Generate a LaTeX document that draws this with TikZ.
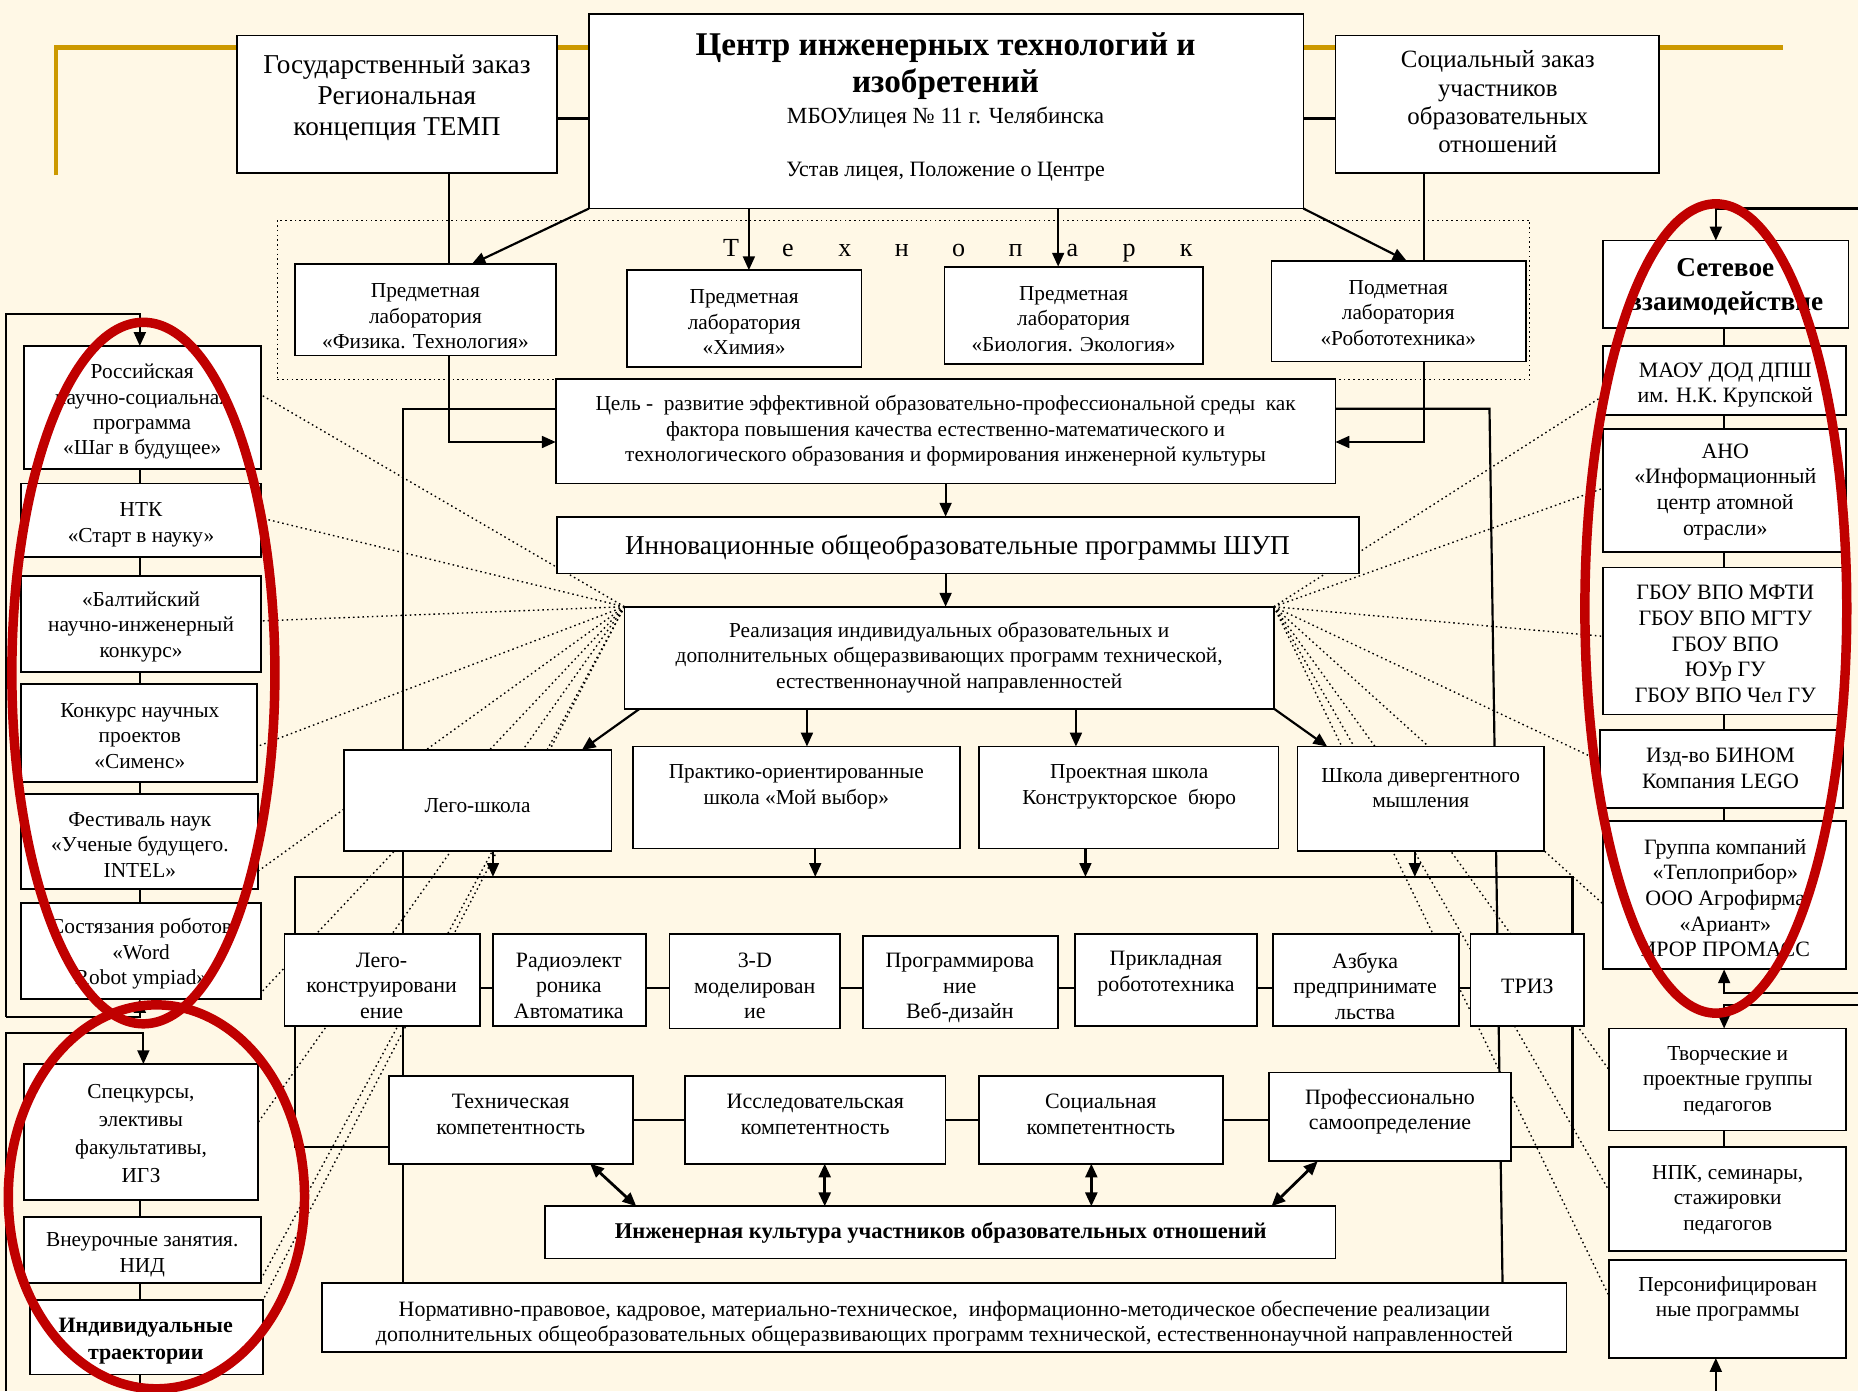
\documentclass[tikz,border=0pt]{standalone}
\usepackage{fontspec}
\setmainfont{Liberation Serif}
\usetikzlibrary{arrows.meta}
\pgfdeclarelayer{bglayer}
\pgfdeclarelayer{lines}
\pgfsetlayers{bglayer,lines,main}
\definecolor{cream}{RGB}{255,248,230}
\definecolor{gold}{RGB}{204,153,0}
\definecolor{ringred}{RGB}{192,0,0}
\newcommand\fsz[2]{\fontsize{#1}{#2}\selectfont\lineskiplimit=-100pt\relax}
\newcommand\bx[6][box]{\node[#1, minimum width={(#5-#3)*0.6pt}, minimum height={(#6-#4)*0.6pt}] (#2) at (#3,#4) {};}
\newcommand\tpl[1]{\makebox[28.8pt]{#1}}
\begin{document}
\begin{tikzpicture}[x=0.6pt,y=-0.6pt,
 box/.style={draw, fill=white, line width=0.9pt, inner sep=0pt, outer sep=0pt, anchor=north west},
 tpbox/.style={draw, dash pattern=on 0.8pt off 1.6pt, line width=0.7pt, inner sep=0pt, outer sep=0pt, anchor=north west},
 txt/.style={align=center, inner sep=0pt, yshift=-1.2pt},
 tG/.style={txt, font=\fsz{13.8pt}{15.9pt}},
 tTitle/.style={txt, font=\fsz{16.8pt}{18.6pt}\bfseries},
 tM/.style={txt, font=\fsz{11.7pt}{13pt}},
 tU/.style={txt, font=\fsz{11.1pt}{13pt}},
 tS/.style={txt, font=\fsz{12.6pt}{14.4pt}},
 tT/.style={txt, font=\fsz{13.2pt}{15pt}},
 t18/.style={txt, font=\fsz{10.8pt}{12.9pt}},
 t185/.style={txt, font=\fsz{11.1pt}{12.9pt}},
 tR/.style={txt, font=\fsz{11.1pt}{13pt}},
 tBig/.style={txt, font=\fsz{13.8pt}{15pt}},
 tEng/.style={txt, font=\fsz{11.4pt}{13pt}\bfseries},
 tInd/.style={txt, font=\fsz{11.1pt}{13.8pt}\bfseries},
 tSet/.style={txt, font=\fsz{13.8pt}{16.8pt}\bfseries},
 ln/.style={line width=1.1pt},
 arr/.style={line width=1.1pt, -{Triangle[length=7pt,width=6pt]}},
 darr/.style={line width=1.4pt, {Triangle[length=7pt,width=6pt]}-{Triangle[length=7pt,width=6pt]}},
 dotln/.style={line width=0.7pt, dash pattern=on 0.8pt off 1.6pt},
 goldln/.style={gold, line width=2.2pt},
 ring/.style={ringred, line width=4.8pt}
]
\useasboundingbox (0,0) rectangle (1568,1174);
\begin{pgfonlayer}{bglayer}
\fill[cream] (0,0) rectangle (1568,1174);
\end{pgfonlayer}

% ---------- top ----------
\bx{gos}{200}{30}{470}{146}
\bx{ctr}{497}{12}{1100}{176}
\bx{soc}{1127}{30}{1400}{146}
\bx[tpbox]{tpark}{234}{186}{1291}{320}
\node[tG] (gosT) at (335,80.5) {Государственный заказ\\Региональная\\концепция ТЕМП};
\node[tTitle] (ctrT) at (798,53.5) {Центр инженерных технологий и\\изобретений};
\node[tM] (ctrS) at (798,97) {МБОУлицея №~11 г. Челябинска};
\node[tU] (ctrU) at (798,143) {Устав лицея, Положение о Центре};
\node[tS] (socT) at (1264,84) {Социальный заказ\\участников\\образовательных\\отношений};
\node[tT] (tpT) at (809,210) {\tpl{Т}\tpl{е}\tpl{х}\tpl{н}\tpl{о}\tpl{п}\tpl{а}\tpl{р}\tpl{к}};

% labs
\bx{fiz}{249}{223}{469}{300}
\bx{him}{529}{228}{727}{310}
\bx{bio}{797}{225}{1015}{307}
\bx{rob}{1073}{220}{1288}{305}
\node[t18] (fizT) at (359,265) {Предметная\\лаборатория\\«Физика. Технология»};
\node[t18] (himT) at (628,270) {Предметная\\лаборатория\\«Химия»};
\node[t18] (bioT) at (906,267) {Предметная\\лаборатория\\«Биология. Экология»};
\node[t18] (robT) at (1180,262) {Подметная\\лаборатория\\«Робототехника»};

% goal, programs
\bx{goal}{469}{320}{1127}{408}
\node[t18] (goalT) at (798,361.5) {Цель -\ \ развитие эффективной образовательно-профессиональной среды\ \ как\\фактора повышения качества естественно-математического и\\технологического образования и формирования инженерной культуры};
\bx{shup}{470}{436}{1147}{484}
\node[tBig] (shupT) at (808,460) {Инновационные общеобразовательные программы ШУП};
\bx{real}{527}{512}{1075}{598}
\node[t18] (realT) at (801,553) {Реализация индивидуальных образовательных и\\дополнительных общеразвивающих программ технической,\\естественнонаучной направленностей};

% schools
\bx{lego}{290}{633}{516}{718}
\bx{prak}{534}{630}{810}{716}
\bx{proj}{826}{630}{1079}{716}
\bx{div}{1095}{630}{1303}{718}
\node[t18] (legoT) at (403,678) {Лего-школа};
\node[t18] (prakT) at (672,662) {Практико-ориентированные\\школа «Мой выбор»};
\node[t18] (projT) at (953,662) {Проектная школа\\Конструкторское\ \ бюро};
\node[t18] (divT) at (1199,663) {Школа дивергентного\\мышления};

% courses
\bx{ca}{240}{788}{405}{866}
\bx{cb}{416}{788}{545}{866}
\bx{cc}{565}{788}{709}{868}
\bx{cd}{728}{790}{893}{868}
\bx{ce}{907}{788}{1061}{866}
\bx{cf}{1074}{788}{1231}{866}
\bx{cg}{1241}{788}{1337}{866}
\node[t185] (caT) at (322,830) {Лего-\\конструировани\\ение};
\node[t185] (cbT) at (480,830) {Радиоэлект\\роника\\Автоматика};
\node[t185] (ccT) at (637,830) {3-D\\моделирован\\ие};
\node[t185] (cdT) at (810,832) {Программирова\\ние\\Веб-дизайн};
\node[t185] (ceT) at (984,819.5) {Прикладная\\робототехника};
\node[t185] (cfT) at (1152,830) {Азбука\\предпринимате\\льства};
\node[t185] (cgT) at (1289,830) {ТРИЗ};

% competences
\bx{tech}{328}{908}{534}{982}
\bx{res}{578}{908}{798}{982}
\bx{socc}{826}{908}{1032}{982}
\bx{prof}{1071}{905}{1275}{980}
\node[t185] (techT) at (431,938.5) {Техническая\\компетентность};
\node[t185] (resT) at (688,938.5) {Исследовательская\\компетентность};
\node[t185] (soccT) at (929,938.5) {Социальная\\компетентность};
\node[t185] (profT) at (1173,936) {Профессионально\\самоопределение};

\bx{eng}{460}{1018}{1127}{1062}
\node[tEng] (engT) at (794,1038) {Инженерная культура участников образовательных отношений};
\bx{norm}{272}{1083}{1322}{1141}
\node[t185] (normT) at (797,1115) {Нормативно-правовое, кадровое, материально-техническое,\ \ информационно-методическое обеспечение реализации\\дополнительных общеобразовательных общеразвивающих программ технической, естественнонаучной направленностей};

% left column
\bx{ros}{20}{292}{220}{396}
\bx{ntk}{18}{408}{220}{470}
\bx{balt}{18}{486}{220}{567}
\bx{konk}{18}{577}{217}{660}
\bx{fest}{18}{670}{218}{750}
\bx{sost}{18}{762}{220}{843}
\bx{spec}{20}{898}{218}{1013}
\bx{vneur}{20}{1027}{220}{1083}
\bx{indiv}{25}{1097}{222}{1160}
\node[t18] (rosT) at (120,345.5) {Российская\\научно-социальная\\программа\\«Шаг в будущее»};
\node[t18] (ntkT) at (119,441) {НТК\\«Старт в науку»};
\node[t18] (baltT) at (119,527) {«Балтийский\\научно-инженерный\\конкурс»};
\node[t18] (konkT) at (118,619) {Конкурс научных\\проектов\\«Сименс»};
\node[t18] (festT) at (118,711) {Фестиваль наук\\«Ученые будущего.\\INTEL»};
\node[t18] (sostT) at (119,803) {Состязания роботов\\«Word\\Robot ympiad»};
\node[txt, font=\fsz{10.8pt}{14.2pt}] (specT) at (119,954.5) {Спецкурсы,\\элективы\\факультативы,\\ИГЗ};
\node[t18] (vneurT) at (120,1057) {Внеурочные занятия.\\НИД};
\node[tInd] (indivT) at (123,1129.5) {Индивидуальные\\траектории};

% right column
\bx{set}{1353}{203}{1560}{277}
\bx{maou}{1353}{292}{1558}{350}
\bx{ano}{1353}{362}{1558}{466}
\bx{gbou}{1353}{479}{1558}{603}
\bx{binom}{1350}{616}{1555}{682}
\bx{grp}{1353}{693}{1558}{818}
\bx{tvor}{1358}{868}{1558}{954}
\bx{npk}{1358}{968}{1558}{1056}
\bx{pers}{1358}{1063}{1558}{1146}
\node[tSet] (setT) at (1456,240) {Сетевое\\взаимодействие};
\node[tR] (maouT) at (1456,323) {МАОУ ДОД ДПШ\\им. Н.К. Крупской};
\node[tR] (anoT) at (1456,413) {АНО\\«Информационный\\центр атомной\\отрасли»};
\node[tR] (gbouT) at (1456,541.5) {ГБОУ ВПО МФТИ\\ГБОУ ВПО МГТУ\\ГБОУ ВПО\\ЮУр ГУ\\ГБОУ ВПО Чел ГУ};
\node[tR] (binomT) at (1452,646.5) {Изд-во БИНОМ\\Компания LEGO};
\node[tR] (grpT) at (1456,756) {Группа компаний\\«Теплоприбор»\\ООО Агрофирма\\«Ариант»\\ИРОР ПРОМАСС};
\node[t18] (tvorT) at (1458,910) {Творческие и\\проектные группы\\педагогов};
\node[t18] (npkT) at (1458,1010.5) {НПК, семинары,\\стажировки\\педагогов};
\node[t18] (persT) at (1458,1094) {Персонифицирован\\ные программы};

% free ends
\coordinate (lfA) at (5,858);
\coordinate (lfB) at (5,1174);
\coordinate (rfA) at (1568,176);
\coordinate (rfB) at (1568,838);
\coordinate (rfC) at (1568,848);
\coordinate (rfD) at (1448,1174);

\begin{pgfonlayer}{lines}
\draw[goldln] (47,148) -- (47,40) -- (1505,40);
\draw[ln] (gos.east |- 0,100) -- (ctr.west |- 0,100);
\draw[ln] (ctr.east |- 0,100) -- (soc.west |- 0,100);
\draw[arr] (ctr.south west) -- (398,0 |- fiz.north);
\draw[arr] (632,0 |- ctr.south) -- (632,0 |- him.north);
\draw[arr] (893,0 |- ctr.south) -- (893,0 |- bio.north);
\draw[arr] (ctr.south east) -- (1187,0 |- rob.north);
\draw[arr] (379,0 |- gos.south) -- (379,373) -- (goal.west |- 0,373);
\draw[arr] (1202,0 |- soc.south) -- (1202,373) -- (goal.east |- 0,373);
\draw[ln] (goal.west |- 0,345) -- (340,345) -- (340,0 |- norm.north);
\draw[ln] (goal.east |- 0,345) -- (1257,345) -- (1268,0 |- norm.north);
\draw[arr] (goal.south) -- (goal.south |- shup.north);
\draw[arr] (goal.south |- shup.south) -- (goal.south |- real.north);
\draw[arr] (540,0 |- real.south) -- (491,0 |- lego.north);
\draw[arr] (681,0 |- real.south) -- (681,0 |- prak.north);
\draw[arr] (908,0 |- real.south) -- (908,0 |- proj.north);
\draw[arr] (real.south east) -- (1120,0 |- div.north);
\draw[arr] (416,0 |- lego.south) -- (416,740);
\draw[arr] (688,0 |- prak.south) -- (688,740);
\draw[arr] (916,0 |- proj.south) -- (916,740);
\draw[arr] (1194,0 |- div.south) -- (1194,740);
\draw[ln] (tech.west |- 0,968) -- (249,968) -- (249,740) -- (1327,740) -- (1327,968) -- (prof.east |- 0,968);
\foreach \a/\b in {ca/cb,cb/cc,cc/cd,cd/ce,ce/cf,cf/cg}
  \draw[ln] (\a.east |- 0,834) -- (\b.west |- 0,834);
\foreach \a/\b in {tech/res,res/socc,socc/prof}
  \draw[ln] (\a.east |- 0,945) -- (\b.west |- 0,945);
\draw[darr] (498,0 |- tech.south) -- (537,0 |- eng.north);
\draw[darr] (696,0 |- res.south) -- (696,0 |- eng.north);
\draw[darr] (921,0 |- socc.south) -- (921,0 |- eng.north);
\draw[darr] (1112,0 |- prof.south) -- (1073,0 |- eng.north);
% left column
\foreach \a/\b in {ros/ntk,ntk/balt,balt/konk,konk/fest,fest/sost,spec/vneur,vneur/indiv}
  \draw[ln] (118,0 |- \a.south) -- (118,0 |- \b.north);
\draw[arr] (lfA) -- (5,265) -- (118,265) -- (118,0 |- ros.north);
\draw[arr] (lfA) -- (118,858) -- (118,0 |- sost.south);
\draw[arr] (lfB) -- (5,872) -- (121,872) -- (121,0 |- spec.north);
\draw[ln] (118,0 |- indiv.south) -- (118,1174);
% right column
\foreach \a/\b in {set/maou,maou/ano,ano/gbou,gbou/binom,binom/grp,tvor/npk}
  \draw[ln] (1455,0 |- \a.south) -- (1455,0 |- \b.north);
\draw[arr] (rfA) -- (1448,176) -- (1448,0 |- set.north);
\draw[arr] (rfB) -- (1455,838) -- (1455,0 |- grp.south);
\draw[arr] (rfC) -- (1455,848) -- (1455,0 |- tvor.north);
\draw[arr] (rfD) -- (1448,0 |- pers.south);
% dotted fans
\foreach \t/\y in {ros/333,ntk/437,balt/524,konk/630,fest/735,sost/838,spec/947,vneur/1080,indiv/1097}
  \draw[dotln] (real.north west) -- (\t.east |- 0,\y);
\foreach \t/\y in {maou/334,ano/412,gbou/537,binom/642,grp/763,tvor/903,npk/1005,pers/1094}
  \draw[dotln] (real.north east) -- (\t.west |- 0,\y);
\end{pgfonlayer}

% red rings
\draw[ring] (121,568) ellipse [x radius=66.6pt, y radius=177.6pt];
\draw[ring] (132,1010) ellipse [x radius=75pt, y radius=97.2pt];
\draw[ring] (1448,513.5) ellipse [x radius=66.3pt, y radius=204.9pt];
\end{tikzpicture}
\end{document}
